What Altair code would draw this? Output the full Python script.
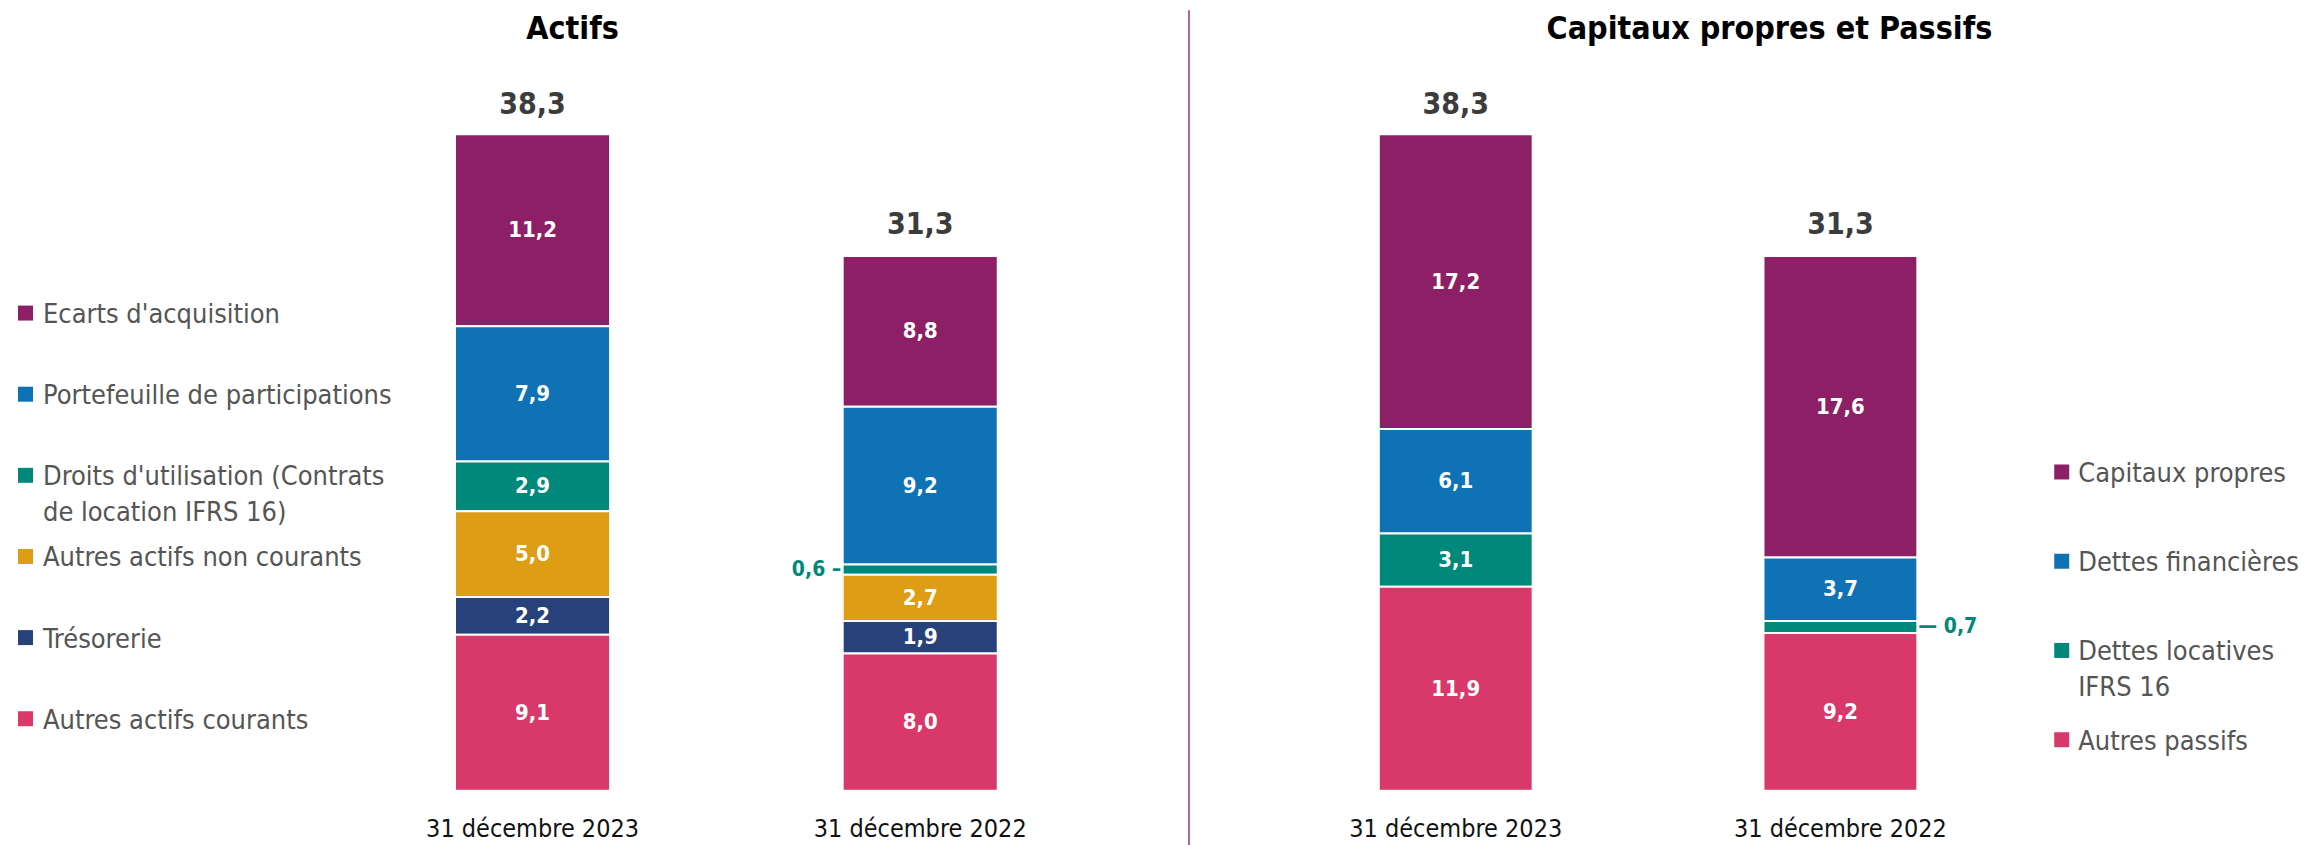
import altair as alt
import pandas as pd

# ---------------- data ----------------
dates = ["31 décembre 2023", "31 décembre 2022"]

actifs_cats = [
    "Ecarts d'acquisition",
    "Portefeuille de participations",
    "Droits d'utilisation (Contrats de location IFRS 16)",
    "Autres actifs non courants",
    "Trésorerie",
    "Autres actifs courants",
]
actifs_legend_labels = [
    "Ecarts d'acquisition",
    "Portefeuille de participations",
    "Droits d'utilisation (Contrats\nde location IFRS 16)",
    "Autres actifs non courants",
    "Trésorerie",
    "Autres actifs courants",
]
actifs_2023 = [11.2, 7.9, 2.9, 5.0, 2.2, 9.1]
actifs_2022 = [8.8, 9.2, 0.6, 2.7, 1.9, 8.0]
actifs_totals = [38.3, 31.3]
actifs_colors = ["#8C1F66", "#0F72B5", "#00887A", "#DD9D15", "#27427A", "#D9386A"]

passifs_cats = [
    "Capitaux propres",
    "Dettes financières",
    "Dettes locatives IFRS 16",
    "Autres passifs",
]
passifs_legend_labels = [
    "Capitaux propres",
    "Dettes financières",
    "Dettes locatives\nIFRS 16",
    "Autres passifs",
]
passifs_2023 = [17.2, 6.1, 3.1, 11.9]
passifs_2022 = [17.6, 3.7, 0.7, 9.2]
passifs_totals = [38.3, 31.3]
passifs_colors = ["#8C1F66", "#0F72B5", "#00887A", "#D9386A"]

FONT = "DejaVu Sans Condensed, Liberation Sans Narrow, Roboto Condensed, sans-serif"
H = 657
YMAX = 38.3


def fmt(v):
    return f"{v:.1f}".replace(".", ",")


def make_df(cats, v23, v22):
    rows = []
    for d, vals in zip(dates, [v23, v22]):
        for j, (c, v) in enumerate(zip(cats, vals)):
            rows.append({"date": d, "cat": c, "ord": j, "value": v, "lbl": fmt(v)})
    return pd.DataFrame(rows)


def make_bars(cats, colors, v23, v22, totals, width, pad_outer, align,
              title, dx, side):
    df = make_df(cats, v23, v22)
    tot = pd.DataFrame({"date": dates, "total": totals,
                        "lbl": [fmt(t) for t in totals]})

    xenc = alt.X("date:N", sort=dates,
                 scale=alt.Scale(paddingInner=0.6, paddingOuter=pad_outer, align=align),
                 axis=alt.Axis(title=None, labelAngle=0, domain=False, ticks=False,
                               labelFontSize=25, labelFont=FONT, labelColor="#111111",
                               labelPadding=26, labelLimit=600))
    yscale = alt.Scale(domain=[0, YMAX], nice=False, zero=True)
    col = alt.Color("cat:N", scale=alt.Scale(domain=cats, range=colors), legend=None)

    base = (alt.Chart(df)
            .transform_stack(stack="value", groupby=["date"], as_=["y0", "y1"],
                             sort=[alt.SortField("ord", order="descending")])
            .transform_calculate(mid="(datum.y0 + datum.y1) / 2"))

    bars = base.mark_bar(stroke="white", strokeWidth=2).encode(
        x=xenc,
        y=alt.Y("y0:Q", scale=yscale, axis=None),
        y2="y1:Q",
        color=col,
    )
    inner = base.transform_filter("datum.value >= 1").mark_text(
        color="white", fontWeight="bold", fontSize=22, font=FONT, baseline="middle"
    ).encode(x=xenc, y=alt.Y("mid:Q", scale=yscale, axis=None), text="lbl:N")

    if side == "left":
        outer = base.transform_filter("datum.value < 1").transform_calculate(
            olbl='datum.lbl + " –"'
        ).mark_text(color="#00887A", fontWeight="bold", fontSize=21, font=FONT,
                    baseline="middle", align="right", dx=-79)
    else:
        outer = base.transform_filter("datum.value < 1").transform_calculate(
            olbl='"— " + datum.lbl'
        ).mark_text(color="#00887A", fontWeight="bold", fontSize=21, font=FONT,
                    baseline="middle", align="left", dx=78)
    outer = outer.encode(x=xenc, y=alt.Y("mid:Q", scale=yscale, axis=None), text="olbl:N")

    totals_txt = alt.Chart(tot).mark_text(
        fontWeight="bold", fontSize=30, font=FONT, color="#3C3C3C",
        baseline="alphabetic", dy=-20
    ).encode(x=xenc, y=alt.Y("total:Q", scale=yscale, axis=None), text="lbl:N")

    return alt.layer(bars, inner, outer, totals_txt).properties(
        width=width, height=H,
        title=alt.TitleParams(text=title, anchor="middle", frame="group", dx=dx,
                              fontSize=32, font=FONT, fontWeight="bold",
                              color="#000000", offset=44),
    )


def make_legend(cats, labels, colors, width, lo, hi, sq_x, txt_x):
    df = pd.DataFrame({"cat": cats, "label": labels, "ord": list(range(len(cats)))})
    ysc = alt.Y("ord:Q", axis=None,
                scale=alt.Scale(domain=[lo, hi], reverse=True, nice=False, zero=False))
    col = alt.Color("cat:N", scale=alt.Scale(domain=cats, range=colors), legend=None)
    sq = alt.Chart(df).mark_square(size=225, opacity=1).encode(
        x=alt.value(sq_x), y=ysc, color=col)
    tx = alt.Chart(df).mark_text(
        align="left", baseline="alphabetic", dy=10, fontSize=27, font=FONT,
        color="#555555", lineBreak="\n", lineHeight=36
    ).encode(x=alt.value(txt_x), y=ysc, text="label:N")
    return alt.layer(sq, tx).properties(width=width, height=H)


leg_left = make_legend(actifs_cats, actifs_legend_labels, actifs_colors,
                       256, -2.204, 5.887, 16.5, 34)
bars_left = make_bars(actifs_cats, actifs_colors, actifs_2023, actifs_2022,
                      actifs_totals, 924, 0.4907, 0.5, "Actifs", -154, "left")

divider = alt.Chart(pd.DataFrame({"d": [0]})).mark_rule(
    color="#B0649E", strokeWidth=2
).encode(x=alt.value(1), y=alt.value(-124), y2=alt.value(713)).properties(width=2, height=H)

bars_right = make_bars(passifs_cats, passifs_colors, passifs_2023, passifs_2022,
                       passifs_totals, 850, 0.4039, 0.6077,
                       "Capitaux propres et Passifs", 155, "right")
leg_right = make_legend(passifs_cats, passifs_legend_labels, passifs_colors,
                        275, -3.784, 3.571, 22.5, 39)

chart = alt.hconcat(
    leg_left, bars_left, divider, bars_right, leg_right, spacing=0, bounds="flush"
).resolve_scale(
    x="independent", y="independent", color="independent"
).properties(
    padding=0
).configure_view(
    stroke="transparent"
)

chart.save("out.html", embed_options={"renderer": "svg", "actions": False})
